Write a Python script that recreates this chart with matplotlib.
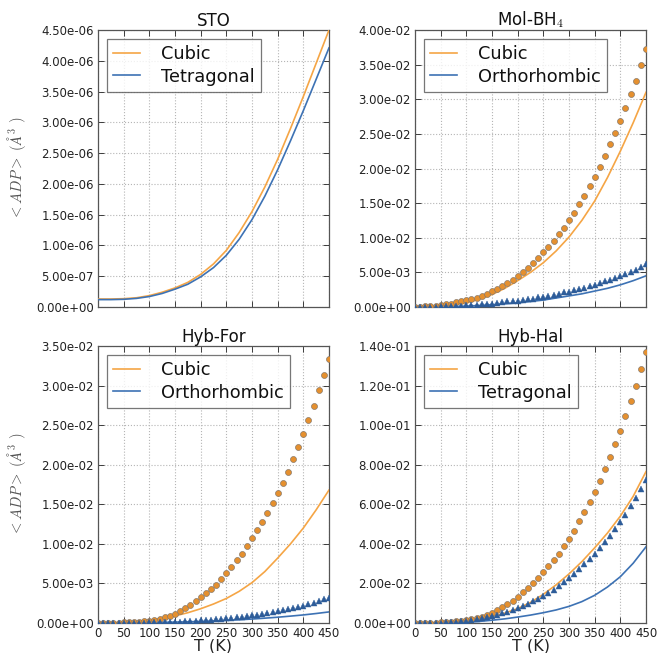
import matplotlib
matplotlib.use("Agg")
import matplotlib.pyplot as plt
from matplotlib.ticker import FormatStrFormatter, MultipleLocator

plt.rcParams['font.family'] = ['DejaVu Sans']
plt.rcParams['mathtext.fontset'] = 'cm'

# Temperature grids (K)
T_line = [0, 25, 50, 75, 100, 125, 150, 175, 200, 225, 250, 275, 300, 325, 350, 375, 400, 425, 450]
T_pts = [0, 10, 20, 30, 40, 50, 60, 70, 80, 90, 100, 110, 120, 130, 140, 150, 160, 170, 180, 190,
         200, 210, 220, 230, 240, 250, 260, 270, 280, 290, 300, 310, 320, 330, 340, 350, 360, 370,
         380, 390, 400, 410, 420, 430, 440, 450]

# ---- STO (lines only) ----
sto_cubic = [1.30e-07, 1.30e-07, 1.35e-07, 1.50e-07, 1.85e-07, 2.40e-07, 3.10e-07, 4.00e-07, 5.30e-07,
             7.00e-07, 9.20e-07, 1.21e-06, 1.55e-06, 1.95e-06, 2.40e-06, 2.90e-06, 3.42e-06, 3.96e-06, 4.50e-06]
sto_tetra = [1.20e-07, 1.20e-07, 1.25e-07, 1.40e-07, 1.70e-07, 2.20e-07, 2.90e-07, 3.70e-07, 4.90e-07,
             6.40e-07, 8.40e-07, 1.10e-06, 1.42e-06, 1.80e-06, 2.23e-06, 2.70e-06, 3.19e-06, 3.70e-06, 4.21e-06]

# ---- Mol-BH4 ----
mol_cubic_line = [0.0, 0.00003, 0.0001, 0.0003, 0.0006, 0.0011, 0.0018, 0.0027, 0.0038, 0.0050, 0.0064,
                  0.0081, 0.0101, 0.0125, 0.0153, 0.0187, 0.0225, 0.0266, 0.0310]
mol_ortho_line = [0.0, 0.00001, 0.00003, 0.00007, 0.00013, 0.00022, 0.00033, 0.00046, 0.0006, 0.0008,
                  0.0010, 0.0013, 0.0016, 0.0019, 0.0023, 0.0027, 0.0032, 0.0038, 0.0045]
mol_cubic_pts = [0.00004, 0.00006, 0.0001, 0.00015, 0.0002, 0.0003, 0.0004, 0.0005, 0.00065, 0.0008,
                 0.00096, 0.0011, 0.0013, 0.0016, 0.0019, 0.0023, 0.0026, 0.0030, 0.0034, 0.0039,
                 0.0045, 0.0051, 0.0057, 0.0064, 0.0071, 0.0079, 0.0087, 0.0096, 0.0105, 0.0114,
                 0.0125, 0.0136, 0.0149, 0.0161, 0.0175, 0.0188, 0.0202, 0.0218, 0.0235, 0.0251,
                 0.0269, 0.0288, 0.0308, 0.0327, 0.0350, 0.0372]
mol_ortho_pts = [0.00001, 0.00002, 0.00003, 0.00004, 0.00006, 0.00008, 0.0001, 0.00013, 0.00016, 0.0002,
                 0.00025, 0.0003, 0.00035, 0.0004, 0.00045, 0.0005, 0.0006, 0.0007, 0.0008, 0.00085,
                 0.0009, 0.0010, 0.0011, 0.0012, 0.0014, 0.0015, 0.0016, 0.0018, 0.0019, 0.0021,
                 0.0022, 0.0024, 0.0026, 0.0028, 0.0030, 0.0032, 0.0034, 0.0037, 0.0039, 0.0042,
                 0.0045, 0.0048, 0.0051, 0.0054, 0.0058, 0.0062]

# ---- Hyb-For ----
for_cubic_line = [0.00001, 0.00003, 0.00008, 0.00018, 0.00035, 0.0006, 0.0009, 0.0013, 0.0018, 0.0024,
                  0.0031, 0.0040, 0.0051, 0.0065, 0.0082, 0.0100, 0.0120, 0.0143, 0.0168]
for_ortho_line = [0.0, 0.00001, 0.00002, 0.00003, 0.00005, 0.00008, 0.00011, 0.00015, 0.0002, 0.00026,
                  0.00033, 0.00041, 0.0005, 0.00061, 0.00073, 0.00087, 0.00102, 0.0012, 0.0014]
for_cubic_pts = [0.00002, 0.00002, 0.00003, 0.00004, 0.00005, 0.00007, 0.00009, 0.00012, 0.00016, 0.0002,
                 0.00027, 0.00037, 0.0005, 0.0007, 0.0009, 0.0012, 0.0015, 0.0019, 0.0023, 0.0028,
                 0.0033, 0.0038, 0.0043, 0.0048, 0.0056, 0.0063, 0.0071, 0.0079, 0.0087, 0.0097,
                 0.0107, 0.0117, 0.0127, 0.0139, 0.0151, 0.0164, 0.0177, 0.0191, 0.0207, 0.0223,
                 0.0239, 0.0256, 0.0274, 0.0294, 0.0313, 0.0334]
for_ortho_pts = [0.00001, 0.00001, 0.00001, 0.00002, 0.00002, 0.00003, 0.00003, 0.00004, 0.00005, 0.00006,
                 0.00007, 0.00008, 0.0001, 0.00011, 0.00013, 0.00015, 0.00018, 0.00021, 0.00024, 0.00028,
                 0.00032, 0.00036, 0.00041, 0.00046, 0.00052, 0.00058, 0.00065, 0.00072, 0.0008, 0.00088,
                 0.00097, 0.00106, 0.00116, 0.00127, 0.00138, 0.0015, 0.00163, 0.00176, 0.0019, 0.00205,
                 0.0022, 0.00236, 0.00253, 0.00275, 0.00298, 0.0032]

# ---- Hyb-Hal ----
hal_cubic_line = [0.00003, 0.0001, 0.0002, 0.0005, 0.0010, 0.0019, 0.0032, 0.0050, 0.0073, 0.0104,
                  0.0145, 0.0193, 0.0248, 0.0310, 0.0380, 0.0455, 0.0540, 0.0640, 0.0765]
hal_tetra_line = [0.00003, 0.00005, 0.0001, 0.0002, 0.0004, 0.0008, 0.0014, 0.0021, 0.0030, 0.0040,
                  0.0052, 0.0066, 0.0084, 0.0108, 0.0140, 0.0182, 0.0234, 0.0302, 0.0385]
hal_cubic_pts = [0.00005, 0.00007, 0.0001, 0.00015, 0.0002, 0.0003, 0.0004, 0.0006, 0.0008, 0.0010,
                 0.0013, 0.0018, 0.0025, 0.0032, 0.0040, 0.0052, 0.0064, 0.0079, 0.0094, 0.0113,
                 0.0131, 0.0155, 0.0178, 0.0203, 0.0229, 0.0257, 0.0287, 0.0318, 0.0351, 0.0388,
                 0.0425, 0.0467, 0.0513, 0.0560, 0.0610, 0.0660, 0.0718, 0.0776, 0.0840, 0.0903,
                 0.0971, 0.1045, 0.1120, 0.1198, 0.1285, 0.1370]
hal_tetra_pts = [0.00004, 0.00005, 0.00007, 0.0001, 0.00015, 0.0002, 0.0003, 0.0004, 0.0006, 0.0008,
                 0.0011, 0.0014, 0.0018, 0.0023, 0.0029, 0.0035, 0.0042, 0.0050, 0.0058, 0.0067,
                 0.0077, 0.0087, 0.0097, 0.0109, 0.0121, 0.0136, 0.0151, 0.0168, 0.0187, 0.0205,
                 0.0225, 0.0249, 0.0271, 0.0296, 0.0323, 0.0351, 0.0378, 0.0408, 0.0442, 0.0474,
                 0.0511, 0.0548, 0.0590, 0.0634, 0.0675, 0.0725]

ORANGE = '#f5a545'
BLUE = '#3d72b4'
DOT = '#e5902f'
TRI = '#2d5c99'

W, H = 658, 653
fig = plt.figure(figsize=(W / 100, H / 100), dpi=100)

def frac(l, t, r, b):
    return [l / W, 1 - b / H, (r - l) / W, (b - t) / H]

panels = [
    dict(rect=frac(98, 30, 329, 307), title='STO', ymax=4.5e-6, ystep=0.5e-6,
         lines=(sto_cubic, sto_tetra), pts=None, labels=('Cubic', 'Tetragonal'),
         left=True, bottom=False),
    dict(rect=frac(415, 30, 646, 307), title=r'Mol-BH$_4$', ymax=0.04, ystep=0.005,
         lines=(mol_cubic_line, mol_ortho_line), pts=(mol_cubic_pts, mol_ortho_pts),
         labels=('Cubic', 'Orthorhombic'), left=False, bottom=False),
    dict(rect=frac(98, 346, 329, 623), title='Hyb-For', ymax=0.035, ystep=0.005,
         lines=(for_cubic_line, for_ortho_line), pts=(for_cubic_pts, for_ortho_pts),
         labels=('Cubic', 'Orthorhombic'), left=True, bottom=True),
    dict(rect=frac(415, 346, 646, 623), title='Hyb-Hal', ymax=0.14, ystep=0.02,
         lines=(hal_cubic_line, hal_tetra_line), pts=(hal_cubic_pts, hal_tetra_pts),
         labels=('Cubic', 'Tetragonal'), left=False, bottom=True),
]

for p in panels:
    ax = fig.add_axes(p['rect'])
    c_line, t_line = p['lines']
    ax.plot(T_line, c_line, color=ORANGE, lw=1.2, label=p['labels'][0], zorder=3)
    ax.plot(T_line, t_line, color=BLUE, lw=1.2, label=p['labels'][1], zorder=3)
    if p['pts'] is not None:
        c_pts, t_pts = p['pts']
        ax.plot(T_pts, c_pts, 'o', ms=4.3, mfc=DOT, mec='#8a7a6a', mew=0.5, zorder=4)
        ax.plot(T_pts, t_pts, '^', ms=4.3, mfc=TRI, mec=TRI, mew=0.3, zorder=4)
    ax.set_xlim(0, 450)
    ax.set_ylim(0, p['ymax'])
    ax.xaxis.set_major_locator(MultipleLocator(50))
    ax.yaxis.set_major_locator(MultipleLocator(p['ystep']))
    ax.yaxis.set_major_formatter(FormatStrFormatter('%.2e'))
    ax.grid(True, linestyle=':', color='#b5b5b5', linewidth=0.8, zorder=0)
    ax.set_axisbelow(True)
    ax.tick_params(direction='in', top=True, right=True, labelsize=8.5,
                   colors='#222222', length=4, width=0.6, pad=3)
    for s in ax.spines.values():
        s.set_color('#555555')
        s.set_linewidth(0.9)
    if not p['bottom']:
        ax.tick_params(labelbottom=False)
    else:
        ax.set_xlabel('T (K)', fontsize=11.5, labelpad=-1, color='#222222')
    if p['left']:
        ax.set_ylabel(r'$<ADP>\ (\AA^3\ )$', fontsize=10.5, color='#555555', labelpad=6)
    ax.set_title(p['title'], fontsize=12, pad=3, color='#111111')
    leg = ax.legend(loc='upper left', fontsize=12.8, frameon=True, fancybox=False,
                    handlelength=1.5, handletextpad=1.2, borderpad=0.35, labelspacing=0.25,
                    borderaxespad=0.5)
    leg.get_frame().set_edgecolor('#555555')
    leg.get_frame().set_linewidth(0.9)
    for t in leg.get_texts():
        t.set_color('#111111')

fig.savefig('out.png', dpi=100)
